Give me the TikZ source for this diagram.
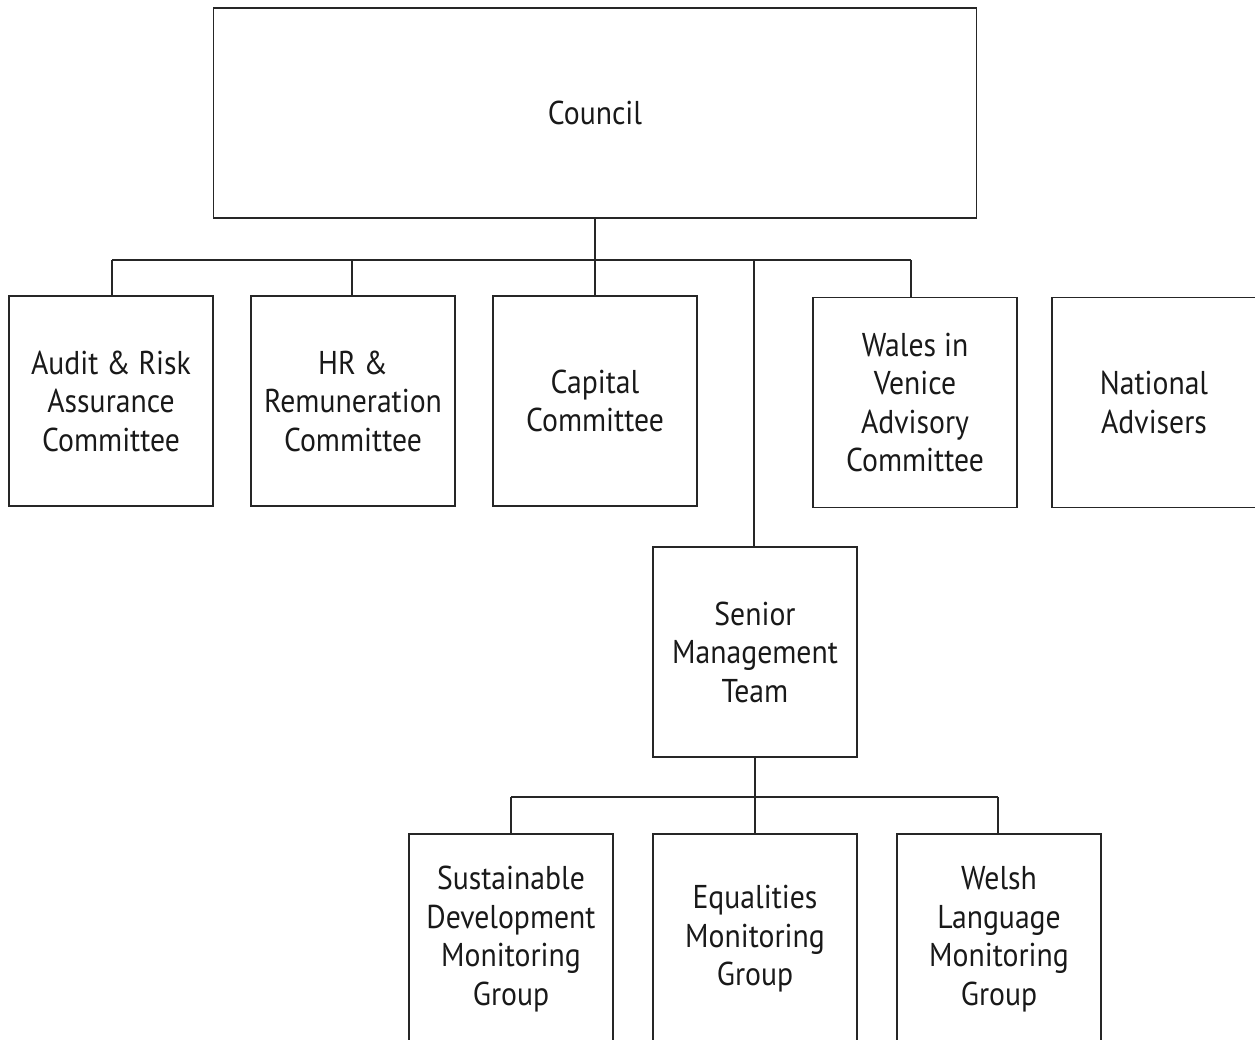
\documentclass[tikz,border=0pt]{standalone}
\usepackage{fontspec}
\setmainfont{PT Sans}[FakeStretch=0.9]
\begin{document}
\begin{tikzpicture}[x=1pt,y=-1pt,
  box/.style={draw=black!85,line width=1.3pt,minimum width=204pt,minimum height=210pt,inner ysep=0pt,inner xsep=0pt,align=center,font=\fontsize{33}{38.5}\selectfont,text=black!90,execute at begin node={\rule{0pt}{0pt}}},
  conn/.style={draw=black!85,line width=1.3pt}]
\useasboundingbox (0,0) rectangle (1255,1039);
\clip (0,0) rectangle (1255,1039);
\node[box,minimum width=763pt] (council) at (595,113) {Council};
\node[box] (audit) at (111,401) {Audit \& Risk\\Assurance\\Committee};
\node[box] (hr) at (353,401) {HR \&\\Remuneration\\Committee};
\node[box] (capital) at (595,401) {Capital\\Committee};
\node[box] (wales) at (915,402.5) {Wales in\\Venice\\Advisory\\Committee};
\node[box] (national) at (1154,402.5) {National\\Advisers};
\node[box] (smt) at (755,652) {Senior\\Management\\Team};
\node[box] (sust) at (511,939) {Sustainable\\Development\\Monitoring\\Group};
\node[box] (equal) at (755,939) {Equalities\\Monitoring\\Group};
\node[box] (welsh) at (999,939) {Welsh\\Language\\Monitoring\\Group};
\coordinate (bus1) at (595,260);
\coordinate (bus2) at (755,797);
\draw[conn] (council.south) -- (bus1);
\draw[conn] (112,260) -- (911,260);
\draw[conn] (112,260) -- (112,296);
\draw[conn] (352,260) -- (352,296);
\draw[conn] (bus1) -- (capital.north);
\draw[conn] (754,260) -- (754,547);
\draw[conn] (911,260) -- (911,297);
\draw[conn] (smt.south) -- (bus2);
\draw[conn] (511,797) -- (998,797);
\draw[conn] (511,797) -- (511,834);
\draw[conn] (bus2) -- (equal.north);
\draw[conn] (998,797) -- (998,834);
\end{tikzpicture}
\end{document}
